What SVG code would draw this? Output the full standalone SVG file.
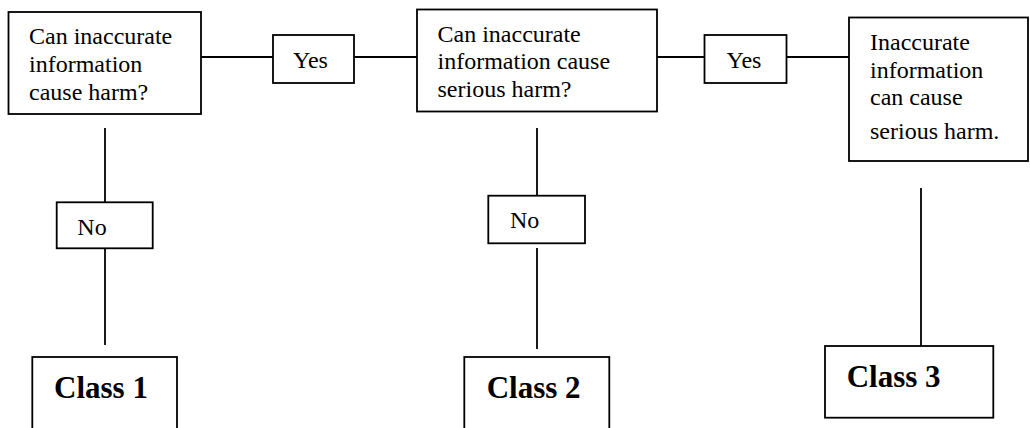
<svg xmlns="http://www.w3.org/2000/svg" width="1030" height="428" viewBox="0 0 1030 428">
<style>
.box{fill:#fff;stroke:#000;stroke-width:1.8}
.t{font-family:'Liberation Serif','DejaVu Serif',serif;font-size:24px;fill:#000}
.c{font-family:'Liberation Serif','DejaVu Serif',serif;font-size:31px;font-weight:bold;fill:#000}
.ln{stroke:#000;stroke-width:1.8;fill:none}
</style>
<rect width="1030" height="428" fill="#fff"/>
<g id="connectors">
<line class="ln" x1="201" y1="57" x2="273" y2="57"/>
<line class="ln" x1="343" y1="57" x2="417" y2="57"/>
<line class="ln" x1="657" y1="57" x2="704" y2="57"/>
<line class="ln" x1="777" y1="57" x2="849" y2="57"/>
<line class="ln" x1="105" y1="128" x2="105" y2="202"/>
<line class="ln" x1="105" y1="248" x2="105" y2="345"/>
<line class="ln" x1="537" y1="128" x2="537" y2="196"/>
<line class="ln" x1="537" y1="248" x2="537" y2="349"/>
<line class="ln" x1="921" y1="188" x2="921" y2="346"/>
</g>
<g id="q1">
<rect class="box" x="8.5" y="12" width="192.5" height="102"/>
<text class="t" font-family="Liberation Serif" x="29" y="44">Can inaccurate</text>
<text class="t" font-family="Liberation Serif" x="29" y="72">information</text>
<text class="t" font-family="Liberation Serif" x="29" y="99.5">cause harm?</text>
</g>
<g id="yes1">
<rect class="box" x="273" y="35" width="81" height="48"/>
<text class="t" x="293" y="68">Yes</text>
</g>
<g id="q2">
<rect class="box" x="417" y="9.5" width="240" height="102"/>
<text class="t" x="437.5" y="41.5">Can inaccurate</text>
<text class="t" x="437.5" y="69">information cause</text>
<text class="t" x="437.5" y="96.5">serious harm?</text>
</g>
<g id="yes2">
<rect class="box" x="704.5" y="35" width="82" height="48"/>
<text class="t" x="726.5" y="68">Yes</text>
</g>
<g id="q3">
<rect class="box" x="849" y="17.5" width="179" height="143.5"/>
<text class="t" x="870" y="50">Inaccurate</text>
<text class="t" x="870" y="77.5">information</text>
<text class="t" x="870" y="104.5">can cause</text>
<text class="t" x="870" y="139">serious harm.</text>
</g>
<g id="no1">
<rect class="box" x="56.7" y="202.3" width="96" height="46"/>
<text class="t" x="77.3" y="235">No</text>
</g>
<g id="no2">
<rect class="box" x="488.3" y="195.7" width="96.7" height="47.6"/>
<text class="t" x="510" y="227.7">No</text>
</g>
<g id="class1">
<rect class="box" x="32.3" y="357" width="144.7" height="90"/>
<text class="c" x="54" y="398">Class 1</text>
</g>
<g id="class2">
<rect class="box" x="464.3" y="357" width="145" height="90"/>
<text class="c" x="486.7" y="398">Class 2</text>
</g>
<g id="class3">
<rect class="box" x="825" y="346" width="168.3" height="71.7"/>
<text class="c" x="846.7" y="386.7">Class 3</text>
</g>
</svg>
